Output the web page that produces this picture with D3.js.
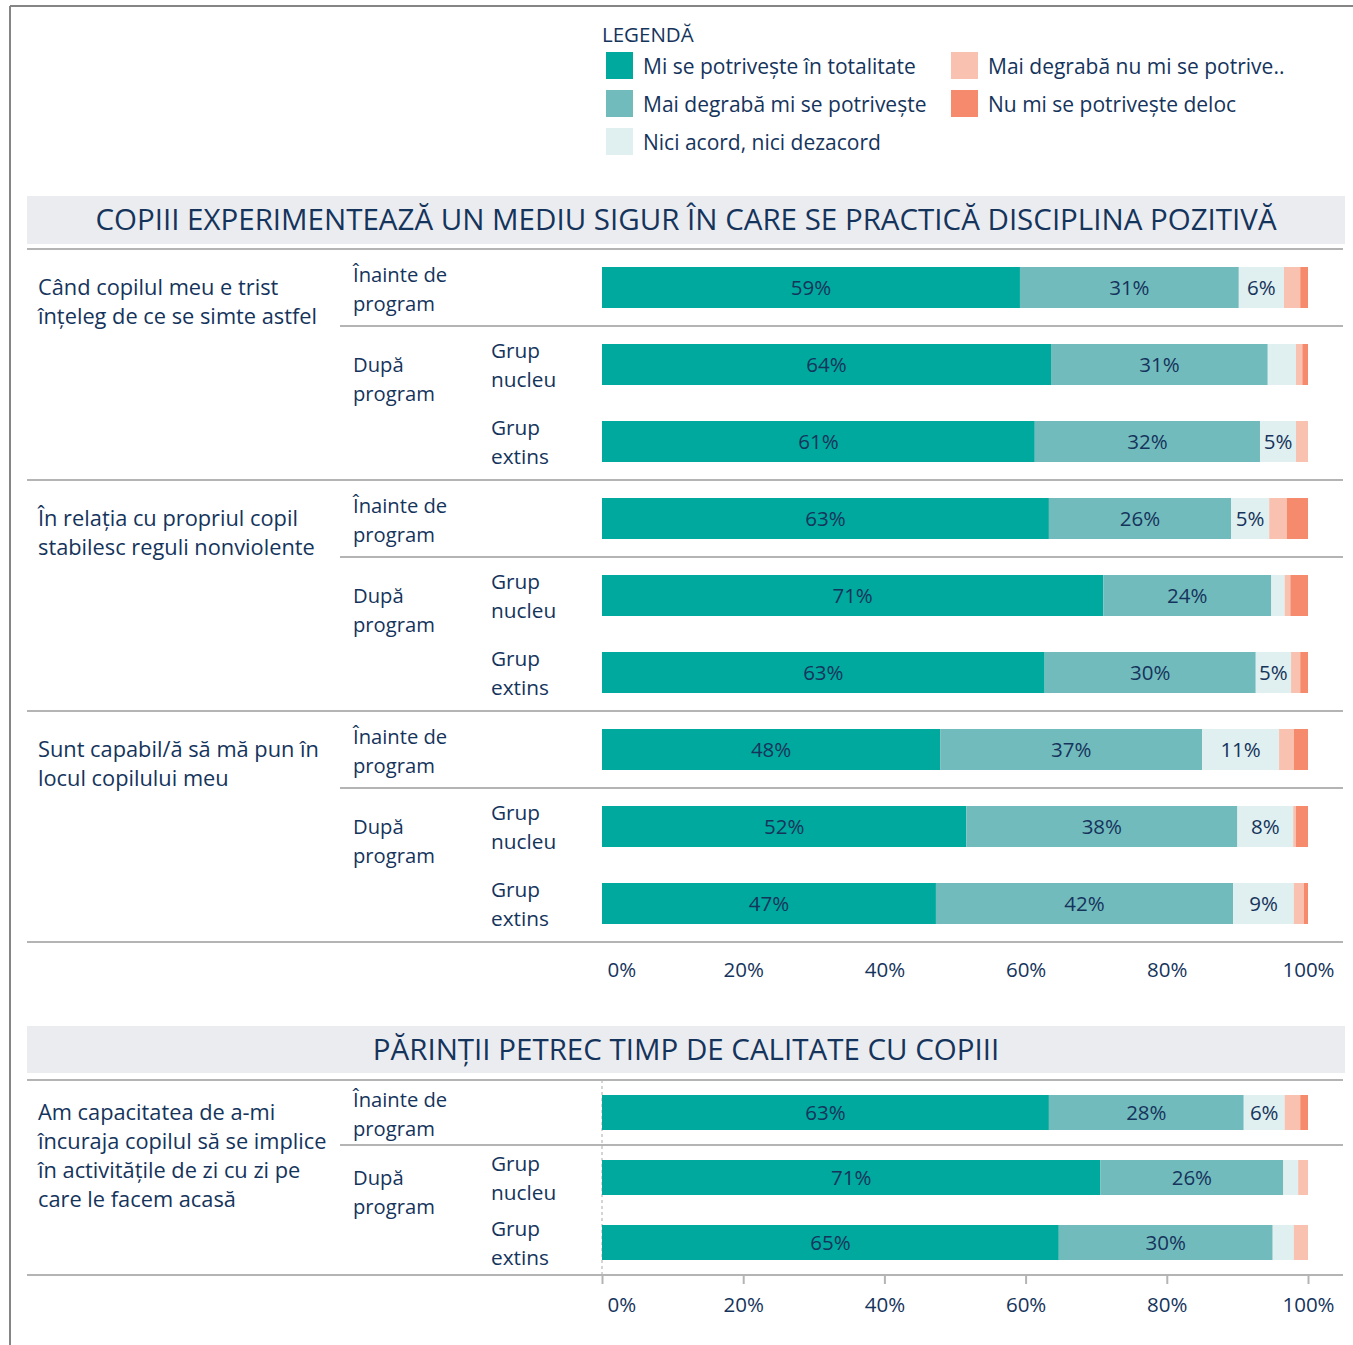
<!DOCTYPE html>
<html><head><meta charset="utf-8">
<script src="https://cdn.jsdelivr.net/npm/d3@7"></script>
<style>body{margin:0;background:#fff} text{font-family:"Open Sans",sans-serif}</style>
</head><body><svg id="c" width="1353" height="1345"></svg>
<script>
// ---------- DATA ----------
const categories = ["Mi se potrivește în totalitate","Mai degrabă mi se potrivește","Nici acord, nici dezacord","Mai degrabă nu mi se potrive..","Nu mi se potrivește deloc"];
const sectionTitles = ["COPIII EXPERIMENTEAZĂ UN MEDIU SIGUR ÎN CARE SE PRACTICĂ DISCIPLINA POZITIVĂ","PĂRINȚII PETREC TIMP DE CALITATE CU COPIII"];
const questions = [
  ["Când copilul meu e trist","înțeleg de ce se simte astfel"],
  ["În relația cu propriul copil","stabilesc reguli nonviolente"],
  ["Sunt capabil/ă să mă pun în","locul copilului meu"],
  ["Am capacitatea de a-mi","încuraja copilul să se implice","în activitățile de zi cu zi pe","care le facem acasă"]
];
const questionSection = [0,0,0,1];
const phaseLabels = [["Înainte de","program"],["După","program"]];
const groupLabels = [["Grup","nucleu"],["Grup","extins"]];
const rowQuestion = [0,0,0,1,1,1,2,2,2,3,3,3];
const rowPhase    = [0,1,1,0,1,1,0,1,1,0,1,1];
const rowGroup    = [-1,0,1,-1,0,1,-1,0,1,-1,0,1];
const totalitate = [59.2,63.6,61.3,63.3,71.0,62.7,47.9,51.6,47.3,63.3,70.6,64.7];
const degraba    = [31.0,30.7,31.9,25.8,23.8,29.9,37.1,38.4,42.1,27.6,25.9,30.3];
const neutru     = [6.4,4.0,5.1,5.4,1.9,5.0,10.9,7.9,8.6,5.8,2.1,3.0];
const degrabaNu  = [2.3,0.9,1.7,2.5,0.8,1.3,2.1,0.4,1.4,2.2,1.4,2.0];
const deloc      = [1.1,0.8,0.0,3.0,2.5,1.1,2.0,1.7,0.6,1.1,0.0,0.0];
const tickValues = [0,20,40,60,80,100];

// ---------- STYLE ----------
const colors = ["#00a99d","#72bbbc","#e0efef","#f9c2b0","#f58b6c"];
const navy = "#15345c";
const lineCol = "#b4b4b4";

const svg = d3.select("#c");
const series = [totalitate,degraba,neutru,degrabaNu,deloc];
const rows = rowQuestion.map((q,i)=>({i,q,sec:questionSection[q],phase:rowPhase[i],group:rowGroup[i],vals:series.map(s=>s[i])}));
const x = d3.scaleLinear().domain([0,100]).range([602,1308]);

// frame
svg.append("line").attr("x1",10).attr("x2",10).attr("y1",6).attr("y2",1345).attr("stroke","#858585").attr("stroke-width",2);
svg.append("line").attr("x1",10).attr("x2",1353).attr("y1",6).attr("y2",6).attr("stroke","#858585").attr("stroke-width",2);

// legend
svg.append("text").attr("x",602).attr("y",35).attr("dy","0.35em").attr("font-size",20.5).attr("fill",navy).text("LEGENDĂ");
const leg = svg.append("g").selectAll("g").data(categories).join("g")
  .attr("transform",(d,i)=>`translate(${i<3?606:951},${52+38*(i%3)})`);
leg.append("rect").attr("width",27).attr("height",27).attr("fill",(d,i)=>colors[i]);
leg.append("text").attr("x",37).attr("y",15).attr("dy","0.35em").attr("font-size",21).attr("fill",navy).text(d=>d);

// sections
const secCfg = [
  {bandY:196,bandH:48,top:249,bottom:942,pad:0.4675,tick:0,dashed:false},
  {bandY:1026,bandH:47,top:1080,bottom:1275,pad:0.4615,tick:9,dashed:true}
];
secCfg.forEach((cfg,s)=>{
  const g = svg.append("g");
  const srows = rows.filter(r=>r.sec===s);
  const y = d3.scaleBand().domain(srows.map(r=>r.i)).range([cfg.top,cfg.bottom]).paddingInner(cfg.pad).paddingOuter(cfg.pad/2);
  const step = y.step();
  g.append("rect").attr("x",27).attr("y",cfg.bandY).attr("width",1318).attr("height",cfg.bandH).attr("fill","#ebecf0");
  g.append("text").attr("x",686).attr("y",cfg.bandY+cfg.bandH/2).attr("dy","0.35em").attr("text-anchor","middle")
    .attr("font-size",29.5).attr("fill",navy).text(sectionTitles[s]);

  if(cfg.dashed){
    g.append("line").attr("x1",x(0)).attr("x2",x(0)).attr("y1",cfg.top).attr("y2",cfg.bottom)
      .attr("stroke","#aaa").attr("stroke-dasharray","3,3");
  }
  srows.forEach((r,k)=>{
    const top = y(r.i) - (step-y.bandwidth())/2;
    const first = k===0 || srows[k-1].q!==r.q;
    const phaseStart = !first && srows[k-1].phase!==r.phase;
    const cy = y(r.i)+y.bandwidth()/2;
    if(first){
      g.append("line").attr("x1",27).attr("x2",1343).attr("y1",top).attr("y2",top).attr("stroke",lineCol).attr("stroke-width",2);
      g.append("text").attr("font-size",21.8).attr("fill",navy)
        .selectAll("tspan").data(questions[r.q]).join("tspan").attr("x",38).attr("y",(d,j)=>cy+28.8*j).attr("dy","0.35em").text(d=>d);
    }
    if(phaseStart){
      g.append("line").attr("x1",340).attr("x2",1343).attr("y1",top).attr("y2",top).attr("stroke",lineCol).attr("stroke-width",2);
    }
    if(first || phaseStart){
      const off = r.phase===0 ? -13 : 0;
      g.append("text").attr("font-size",20.2).attr("fill",navy)
        .selectAll("tspan").data(phaseLabels[r.phase]).join("tspan").attr("x",353).attr("y",(d,j)=>cy+off+29*j).attr("dy","0.35em").text(d=>d);
    }
    if(r.group>=0){
      g.append("text").attr("font-size",20.8).attr("fill",navy)
        .selectAll("tspan").data(groupLabels[r.group]).join("tspan").attr("x",491).attr("y",(d,j)=>cy-13.5+28.5*j).attr("dy","0.35em").text(d=>d);
    }
  });
  g.append("line").attr("x1",27).attr("x2",1343).attr("y1",cfg.bottom).attr("y2",cfg.bottom).attr("stroke",lineCol).attr("stroke-width",2);

  // bars
  const bars = g.append("g").selectAll("g").data(srows).join("g");
  bars.each(function(r){
    const segs = []; let acc=0;
    r.vals.forEach((v,ci)=>{segs.push({v,ci,x0:acc,x1:acc+v}); acc+=v;});
    const bg = d3.select(this);
    bg.selectAll("rect").data(segs.filter(d=>d.v>0)).join("rect")
      .attr("x",d=>x(d.x0)).attr("width",d=>x(d.x1)-x(d.x0))
      .attr("y",y(r.i)).attr("height",y.bandwidth()).attr("fill",d=>colors[d.ci]);
    bg.selectAll("text").data(segs.filter(d=>d.v>=4.5)).join("text")
      .attr("x",d=>(x(d.x0)+x(d.x1))/2).attr("y",y(r.i)+y.bandwidth()/2).attr("dy","0.35em")
      .attr("text-anchor","middle").attr("font-size",20.5).attr("fill",navy).text(d=>Math.round(d.v)+"%");
  });

  // axis
  const ax = g.append("g").attr("transform",`translate(0,${cfg.bottom})`)
    .call(d3.axisBottom(x).tickValues(tickValues).tickFormat(d=>d+"%").tickSize(cfg.tick).tickPadding(cfg.tick?13:20));
  ax.select(".domain").remove();
  ax.selectAll(".tick line").attr("stroke",lineCol).attr("stroke-width",2);
  ax.selectAll(".tick text").attr("font-size",20.5).attr("fill",navy).attr("font-family","Open Sans, sans-serif");
  ax.selectAll(".tick text").filter(d=>d===0).attr("text-anchor","start").attr("dx",5);
});
</script></body></html>
